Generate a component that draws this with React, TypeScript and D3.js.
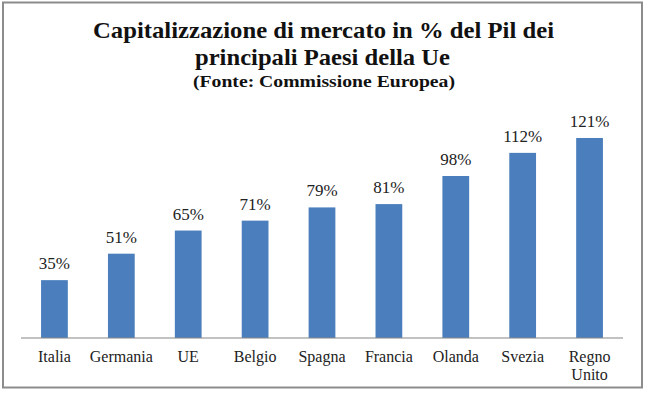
import React from "react";
import * as d3 from "d3";

const categories = ["Italia", "Germania", "UE", "Belgio", "Spagna", "Francia", "Olanda", "Svezia", "Regno Unito"];
const values = [35, 51, 65, 71, 79, 81, 98, 112, 121];
const titleLines = ["Capitalizzazione di mercato in % del Pil dei", "principali Paesi della Ue"];
const subtitle = "(Fonte: Commissione Europea)";

export default function App() {
  const W = 649, H = 393;
  const left = 21, right = 623, base = 338;
  const x = d3.scaleBand<string>().domain(categories).range([left, right]).paddingInner(0.6).paddingOuter(0.3);
  const y = d3.scaleLinear().domain([0, 140]).range([base, base - 140 * 1.653]);
  const font = "'Times New Roman', 'Liberation Serif', serif";
  return (
    <svg width={W} height={H} style={{ position: "absolute", left: 0, top: 0, background: "#fff" }}>
      <rect x={0} y={0} width={W} height={H} fill="#fff" />
      <rect x={3} y={2.5} width={639} height={385} fill="none" stroke="#8c8c8c" strokeWidth={2} />
      <g fontFamily={font} fontWeight="bold" fill="#111" textAnchor="middle">
        <text x={323.5} y={38} fontSize={23} textLength={461} lengthAdjust="spacingAndGlyphs">{titleLines[0]}</text>
        <text x={322.5} y={65} fontSize={23} textLength={255} lengthAdjust="spacingAndGlyphs">{titleLines[1]}</text>
        <text x={324} y={87} fontSize={17} textLength={262} lengthAdjust="spacingAndGlyphs">{subtitle}</text>
      </g>
      {categories.map((c, i) => (
        <rect key={c} x={x(c)} y={y(values[i])} width={x.bandwidth()} height={base - y(values[i])} fill="#4a7ebd" />
      ))}
      <line x1={left} x2={right} y1={base} y2={base} stroke="#868686" strokeWidth={1.2} />
      <g fontFamily={font} fontSize={17} fill="#222" textAnchor="middle">
        {categories.map((c, i) => (
          <text key={c} x={x(c)! + x.bandwidth() / 2} y={y(values[i]) - 11}>{values[i]}%</text>
        ))}
      </g>
      <g fontFamily={font} fontSize={16} fill="#222" textAnchor="middle">
        {categories.map((c) => {
          const parts = c === "Regno Unito" ? ["Regno", "Unito"] : [c];
          return (
            <text key={c} x={x(c)! + x.bandwidth() / 2} y={362}>
              {parts.map((p, j) => (
                <tspan key={j} x={x(c)! + x.bandwidth() / 2} dy={j === 0 ? 0 : 18}>{p}</tspan>
              ))}
            </text>
          );
        })}
      </g>
    </svg>
  );
}
